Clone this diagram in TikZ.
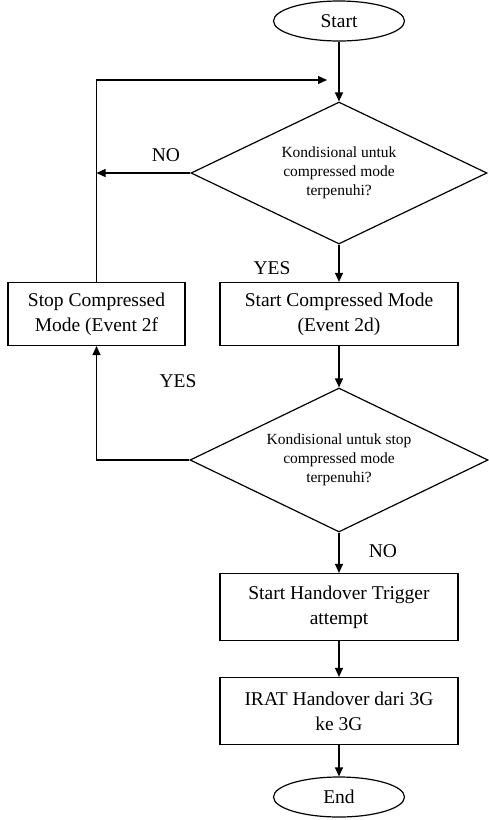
\documentclass[tikz,border=0pt]{standalone}
\usepackage{fontspec}
\setmainfont{Liberation Serif}
\usetikzlibrary{shapes.geometric,arrows.meta}
\begin{document}
\begin{tikzpicture}[x=1pt,y=-1pt,
  line width=1.2pt,
  boxtxt/.style={font=\fontsize{19.5}{25}\selectfont, align=center},
  procbox/.style={draw, rectangle, boxtxt, inner sep=0pt},
  termbox/.style={draw, ellipse, boxtxt, inner sep=0pt, minimum width=131pt, minimum height=40pt},
  decbox/.style={draw, diamond, aspect=2.1, inner sep=0pt, align=center, font=\fontsize{15.5}{19}\selectfont},
  lbl/.style={font=\fontsize{19.5}{23}\selectfont, inner sep=0pt},
  arr/.style={-{Triangle[length=9pt,width=8pt]}}
]
\useasboundingbox (0,0) rectangle (488,820);

\node[termbox] (start) at (339,21) {Start};
\node[decbox, minimum width=296pt, minimum height=142pt] (d1) at (339,173) {Kondisional untuk\\compressed mode\\terpenuhi?};
\node[procbox, minimum width=238pt, minimum height=63pt] (b1) at (339,314) {Start Compressed Mode\\(Event 2d)};
\node[procbox, minimum width=177pt, minimum height=63pt] (stop) at (96.5,314) {Stop Compressed\\Mode (Event 2f};
\node[decbox, minimum width=298pt, minimum height=144pt] (d2) at (339,460) {Kondisional untuk stop\\compressed mode\\terpenuhi?};
\node[procbox, minimum width=238pt, minimum height=67pt] (b2) at (339,607) {Start Handover Trigger\\attempt};
\node[procbox, minimum width=238pt, minimum height=67pt] (b3) at (339,711) {IRAT Handover dari 3G\\ke 3G};
\node[termbox] (end) at (339,797) {End};

\node[lbl] (no1) at (166,155) {NO};
\node[lbl] (yes1) at (272,268) {YES};
\node[lbl] (yes2) at (178,381) {YES};
\node[lbl] (no2) at (383,551) {NO};

\coordinate (loopend) at (327,80);

\draw[arr] (start) -- (d1);
\draw[arr] (d1) -- (b1);
\draw[arr] (b1) -- (d2);
\draw[arr] (d2) -- (b2);
\draw[arr] (b2) -- (b3);
\draw[arr] (b3) -- (end);
\draw[arr] (d1.west) -- (d1.west -| stop.north);
\draw[arr] (stop.north) |- (loopend);
\draw[arr] (d2.west) -| (stop.south);
\end{tikzpicture}
\end{document}
